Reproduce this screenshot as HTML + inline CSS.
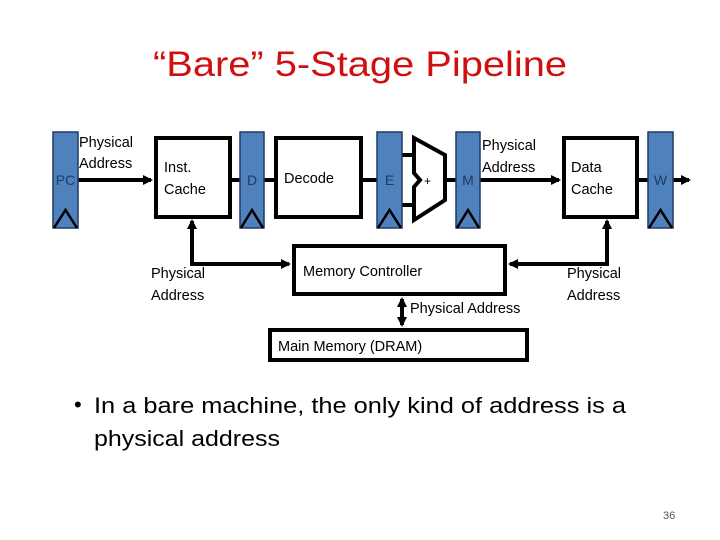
<!DOCTYPE html>
<html><head><meta charset="utf-8"><style>
body{margin:0;background:#fff}
svg{display:block}
text{font-family:"Liberation Sans",sans-serif}
</style></head><body>
<svg width="720" height="540" viewBox="0 0 720 540" xmlns="http://www.w3.org/2000/svg">
<defs>
<marker id="ah" markerWidth="10" markerHeight="10" refX="8" refY="5" orient="auto" markerUnits="userSpaceOnUse"><path d="M0,0 L10,5 L0,10 z" fill="#000"/></marker>
</defs>
<text x="360" y="76" text-anchor="middle" font-size="35" fill="#d01010" textLength="414" lengthAdjust="spacingAndGlyphs">“Bare” 5-Stage Pipeline</text>

<g stroke="#000" stroke-width="4" fill="none">
<line x1="78" y1="180" x2="151" y2="180" marker-end="url(#ah)"/>
<line x1="230" y1="180" x2="240" y2="180"/>
<line x1="264" y1="180" x2="276" y2="180"/>
<line x1="361" y1="180" x2="377" y2="180"/>
<line x1="402" y1="155" x2="414" y2="155"/>
<line x1="402" y1="205" x2="414" y2="205"/>
<line x1="445" y1="180" x2="456" y2="180"/>
<line x1="480" y1="180" x2="559" y2="180" marker-end="url(#ah)"/>
<line x1="637" y1="180" x2="648" y2="180"/>
<line x1="673" y1="180" x2="689" y2="180" marker-end="url(#ah)"/>
<polyline points="192,226 192,264 289,264" marker-end="url(#ah)"/>
<line x1="192" y1="262" x2="192" y2="221" marker-end="url(#ah)"/>
<polyline points="607,226 607,264 510,264" marker-end="url(#ah)"/>
<line x1="607" y1="262" x2="607" y2="221" marker-end="url(#ah)"/>
<line x1="402" y1="312" x2="402" y2="299" marker-end="url(#ah)"/>
<line x1="402" y1="310" x2="402" y2="325" marker-end="url(#ah)"/>
</g>

<g fill="#4f81bd" stroke="#1f3b63" stroke-width="1.5">
<rect x="53" y="132" width="25" height="96"/>
<rect x="240" y="132" width="24" height="96"/>
<rect x="377" y="132" width="25" height="96"/>
<rect x="456" y="132" width="24" height="96"/>
<rect x="648" y="132" width="25" height="96"/>
</g>
<g fill="none" stroke="#000" stroke-width="2.5">
<polyline points="54,228 65.5,210 77,228"/>
<polyline points="241,228 252,210 263,228"/>
<polyline points="378,228 389.5,210 401,228"/>
<polyline points="457,228 468,210 479,228"/>
<polyline points="649,228 660.5,210 672,228"/>
</g>
<g font-size="14" fill="#1f3b63" text-anchor="middle">
<text x="65.5" y="185">PC</text>
<text x="252" y="185">D</text>
<text x="389.5" y="185">E</text>
<text x="468" y="185">M</text>
<text x="660.5" y="185">W</text>
</g>

<g fill="#fff" stroke="#000" stroke-width="4">
<rect x="156" y="138" width="74" height="79"/>
<rect x="276" y="138" width="85" height="79"/>
<rect x="564" y="138" width="73" height="79"/>
<rect x="294" y="246" width="211" height="48"/>
<rect x="270" y="330" width="257" height="30"/>
<polygon points="414,138 445,155 445,200 414,220 414,187 420,180 414,173"/>
</g>

<g font-size="14.5" fill="#000">
<text x="79" y="147">Physical</text>
<text x="79" y="168">Address</text>
<text x="164" y="172">Inst.</text>
<text x="164" y="194">Cache</text>
<text x="284" y="183">Decode</text>
<text x="424" y="185" font-size="12">+</text>
<text x="482" y="150">Physical</text>
<text x="482" y="172">Address</text>
<text x="571" y="172">Data</text>
<text x="571" y="194">Cache</text>
<text x="151" y="278">Physical</text>
<text x="151" y="300">Address</text>
<text x="303" y="276">Memory Controller</text>
<text x="410" y="313">Physical Address</text>
<text x="567" y="278">Physical</text>
<text x="567" y="300">Address</text>
<text x="278" y="351">Main Memory (DRAM)</text>
</g>

<g font-size="22" fill="#000">
<text x="74" y="412">•</text>
<text x="94" y="413" textLength="532" lengthAdjust="spacingAndGlyphs">In a bare machine, the only kind of address is a</text>
<text x="94" y="446" textLength="186" lengthAdjust="spacingAndGlyphs">physical address</text>
</g>
<text x="663" y="519" font-size="11" fill="#555">36</text>
</svg>
</body></html>
